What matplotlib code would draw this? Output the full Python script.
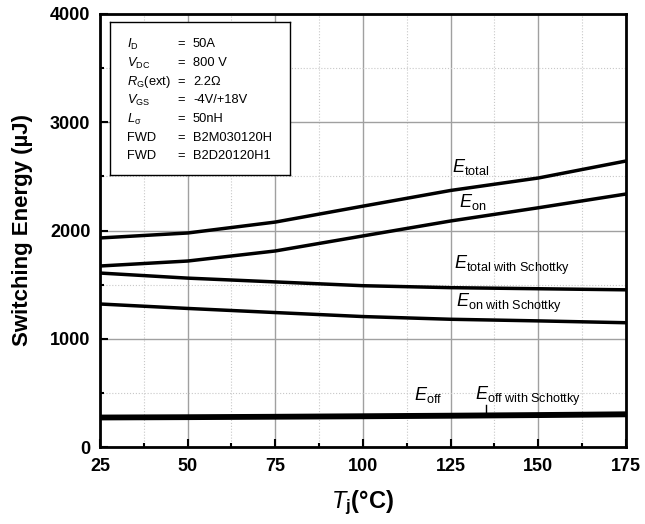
import numpy as np
import matplotlib.pyplot as plt
from matplotlib.ticker import MultipleLocator

plt.rcParams['font.family'] = ['Liberation Sans', 'DejaVu Sans']
plt.rcParams['mathtext.fontset'] = 'custom'
plt.rcParams['mathtext.rm'] = 'Liberation Sans'
plt.rcParams['mathtext.it'] = 'Liberation Sans:italic'
plt.rcParams['mathtext.bf'] = 'Liberation Sans:bold'

tj = [25, 50, 75, 100, 125, 150, 175]
e_total = [1931, 1977, 2078, 2225, 2370, 2485, 2642]
e_on = [1672, 1718, 1811, 1950, 2088, 2210, 2337]
e_total_sch = [1607, 1560, 1525, 1490, 1472, 1462, 1452]
e_on_sch = [1321, 1280, 1242, 1205, 1180, 1165, 1148]
e_off = [280, 283, 287, 292, 297, 303, 310]
e_off_sch = [265, 268, 272, 276, 281, 287, 294]

params = [
    ("$I$$_\\mathregular{D}$", "50A"),
    ("$V$$_\\mathregular{DC}$", "800 V"),
    ("$R$$_\\mathregular{G}$(ext)", "2.2Ω"),
    ("$V$$_\\mathregular{GS}$", "-4V/+18V"),
    ("$L$$_\\mathregular{σ}$", "50nH"),
    ("FWD", "B2M030120H"),
    ("FWD", "B2D20120H1"),
]

fig = plt.figure(figsize=(6.45, 5.24), dpi=100)
ax = fig.add_axes([100 / 645, 1 - 447 / 524, 526 / 645, 433 / 524])

for y in [e_total, e_on, e_total_sch, e_on_sch]:
    ax.plot(tj, y, color="black", lw=2.5, zorder=3)
ax.plot(tj, e_off, color="black", lw=3, zorder=3)
ax.plot(tj, e_off_sch, color="black", lw=3, zorder=3)

ax.set_xlim(25, 175)
ax.set_ylim(0, 4000)
ax.xaxis.set_major_locator(MultipleLocator(25))
ax.xaxis.set_minor_locator(MultipleLocator(12.5))
ax.yaxis.set_major_locator(MultipleLocator(1000))
ax.yaxis.set_minor_locator(MultipleLocator(500))
ax.grid(which="major", color="#a0a0a0", lw=1, ls="-")
ax.grid(which="minor", color="#c8c8c8", lw=0.8, ls=":")
ax.set_axisbelow(True)
ax.tick_params(which="both", direction="in", top=False, right=False, width=1.5)
ax.tick_params(which="major", length=6, labelsize=13)
ax.tick_params(which="minor", length=3)
ax.tick_params(axis="x", pad=8)
ax.tick_params(axis="y", pad=7)
for lab in ax.get_xticklabels() + ax.get_yticklabels():
    lab.set_fontweight("bold")
for s in ax.spines.values():
    s.set_linewidth(2)

ax.set_ylabel("Switching Energy (µJ)", fontsize=16, fontweight="bold", labelpad=12)
ax.set_xlabel("$\\mathbf{\\mathit{T}}$$_\\mathbf{j}$$\\mathbf{(°C)}$", fontsize=17, labelpad=10)

tx = dict(fontsize=13, color="black")
ax.text(125.3, 2540, "$E$$_\\mathregular{total}$", **tx)
ax.text(127.3, 2220, "$E$$_\\mathregular{on}$", **tx)
ax.text(126, 1640, "$E$$_\\mathregular{total\\ with\\ Schottky}$", **tx)
ax.text(126.5, 1290, "$E$$_\\mathregular{on\\ with\\ Schottky}$", **tx)
ax.text(114.5, 430, "$E$$_\\mathregular{off}$", **tx)
ax.text(132, 430, "$E$$_\\mathregular{off\\ with\\ Schottky}$", **tx)
ax.plot([135.1, 135.1], [310, 385], color="black", lw=1, zorder=3)

bx = ax.inset_axes([0.019, 0.628, 0.342, 0.353])
bx.set_xticks([])
bx.set_yticks([])
for s in bx.spines.values():
    s.set_linewidth(1)
bx.set_facecolor("white")
bx.set_zorder(4)
for i, (k, v) in enumerate(params):
    yy = 0.855 - i * 0.122
    bx.text(0.094, yy, k, fontsize=9.3, transform=bx.transAxes, va="center")
    bx.text(0.372, yy, "=", fontsize=9.3, transform=bx.transAxes, va="center")
    bx.text(0.461, yy, v, fontsize=9.3, transform=bx.transAxes, va="center")

fig.savefig("out.png", dpi=100)
